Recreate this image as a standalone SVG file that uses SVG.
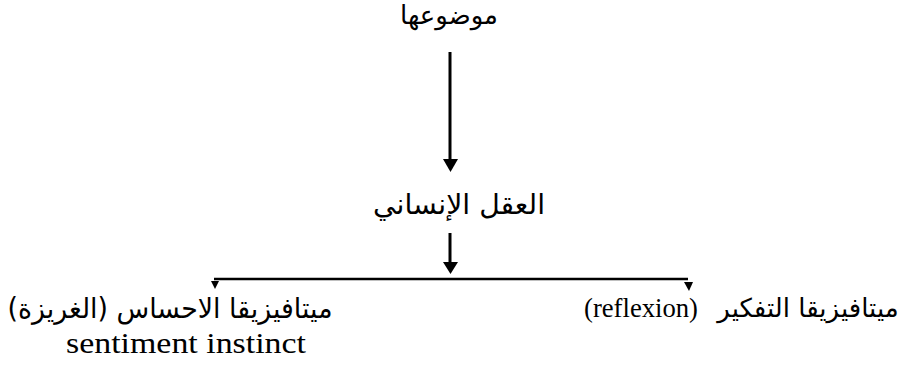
<svg xmlns="http://www.w3.org/2000/svg" width="901" height="370" viewBox="0 0 901 370">
<style>
.ar{font-family:"DejaVu Sans",sans-serif;font-size:28px;fill:#000}
.en{font-family:"Liberation Serif",serif;font-size:28px;fill:#000}
.ln{stroke:#000;stroke-width:3;fill:none}
.hd{fill:#000}
</style>
<rect width="901" height="370" fill="#fff"/>
<g id="n-topic"><text class="ar" x="449" y="24" text-anchor="middle" direction="rtl" style="font-size:26px" textLength="98" lengthAdjust="spacingAndGlyphs">موضوعها</text></g>
<g id="n-mind"><text class="ar" x="459" y="214" text-anchor="middle" direction="rtl" textLength="172" lengthAdjust="spacingAndGlyphs">العقل الإنساني</text></g>
<g id="n-sense"><text class="ar" x="170" y="318" text-anchor="middle" direction="rtl" textLength="325" lengthAdjust="spacingAndGlyphs">ميتافيزيقا الاحساس (الغريزة)</text>
<text class="en" x="186" y="353" text-anchor="middle" style="font-size:30px" textLength="240" lengthAdjust="spacingAndGlyphs">sentiment instinct</text></g>
<g id="n-reflect"><text class="ar" x="808" y="317" text-anchor="middle" direction="rtl" style="font-size:26px">ميتافيزيقا التفكير</text>
<text class="en" x="584" y="317" textLength="114" lengthAdjust="spacingAndGlyphs">(reflexion)</text></g>
<g id="connectors">
<line class="ln" x1="450" y1="52" x2="450" y2="162"/>
<path class="hd" d="M443,159 L458,159 L450.5,172 z"/>
<line class="ln" x1="450" y1="233" x2="450" y2="264"/>
<path class="hd" d="M443,262 L458,262 L450.5,274 z"/>
<line class="ln" x1="214" y1="279" x2="688" y2="279" style="stroke-width:2.5"/>
<path class="hd" d="M211,281 L219,281 L215,289 z"/>
<path class="hd" d="M684,282 L693,282 L689,291 z"/>
</g>
</svg>
